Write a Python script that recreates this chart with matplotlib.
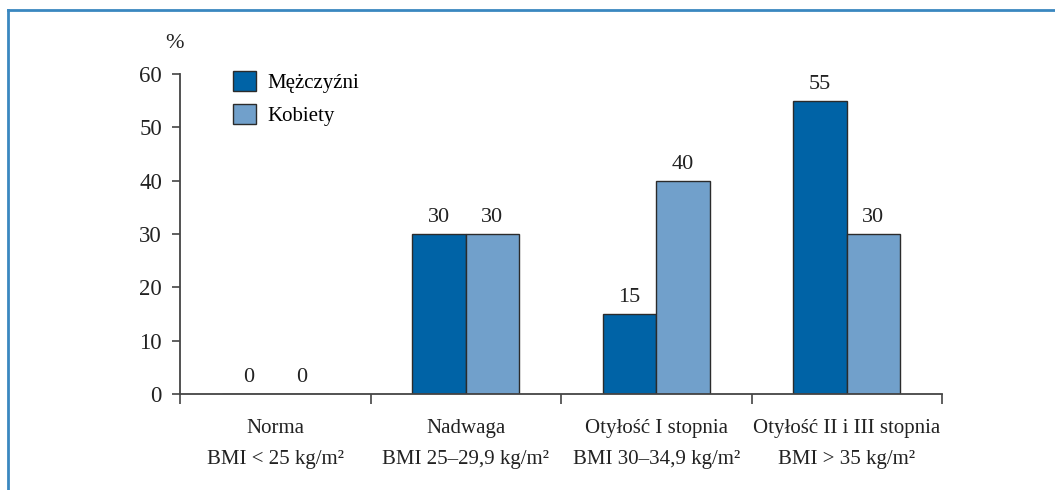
import matplotlib
matplotlib.use("Agg")
import matplotlib.pyplot as plt
from matplotlib.lines import Line2D
import numpy as np

categories = ["Norma\nBMI < 25 kg/m²", "Nadwaga\nBMI 25–29,9 kg/m²",
              "Otyłość I stopnia\nBMI 30–34,9 kg/m²",
              "Otyłość II i III stopnia\nBMI > 35 kg/m²"]
men = [0, 30, 15, 55]
women = [0, 30, 40, 30]
series_names = ["Mężczyźni", "Kobiety"]
yticks = [0, 10, 20, 30, 40, 50, 60]

plt.rcParams["font.family"] = ["Liberation Serif", "DejaVu Serif"]

W, H = 1055, 490
fig = plt.figure(figsize=(W / 100, H / 100), dpi=100)
ax = fig.add_axes([180 / W, (H - 394) / H, 762 / W, 320 / H])

dark = "#0063a6"
light = "#71a0cb"
edge = "#2b2b2b"
axis_col = "#444444"
txt = "#222222"
bw = 0.28

x = np.arange(len(categories))
b1 = ax.bar(x - bw / 2, men, bw, color=dark, edgecolor=edge, linewidth=1.0,
            label=series_names[0])
b2 = ax.bar(x + bw / 2, women, bw, color=light, edgecolor=edge, linewidth=1.0,
            label=series_names[1])
for bars, vals in ((b1, men), (b2, women)):
    for r, v in zip(bars, vals):
        ax.annotate("%d" % v, (r.get_x() + r.get_width() / 2, v),
                    textcoords="offset points", xytext=(0, 5),
                    ha="center", va="bottom", fontsize=16, color=txt)

ax.set_xlim(-0.5, len(categories) - 0.5)
ax.set_ylim(0, 60)
ax.set_yticks(yticks)
ax.tick_params(axis="y", labelsize=16.5, length=6, width=1.2, color=axis_col,
               pad=7, labelcolor=txt)

ax.set_xticks(np.arange(len(categories) + 1) - 0.5)
ax.set_xticklabels([])
ax.tick_params(axis="x", which="major", length=7, width=1.2, color=axis_col)
ax.set_xticks(x, minor=True)
ax.set_xticklabels(categories, minor=True, fontsize=15, linespacing=1.85,
                   color=txt)
ax.tick_params(axis="x", which="minor", length=0, pad=18)

for s in ("top", "right"):
    ax.spines[s].set_visible(False)
for s in ("left", "bottom"):
    ax.spines[s].set_color(axis_col)
    ax.spines[s].set_linewidth(1.3)

fig.text(174 / W, 1 - 43 / H, "%", fontsize=16, ha="center", va="center",
         color=txt)

ax.legend(loc="upper left", bbox_to_anchor=(214 / W, 1 - 52 / H),
          bbox_transform=fig.transFigure, frameon=False, fontsize=15,
          handlelength=1.1, handleheight=1.1, handletextpad=0.55,
          labelspacing=0.55)

# blue frame (top and left edges visible)
border = "#3a87c0"
fig.add_artist(Line2D([7.5 / W, 1], [1 - 10.5 / H, 1 - 10.5 / H],
                      transform=fig.transFigure, color=border, linewidth=2))
fig.add_artist(Line2D([7.5 / W, 7.5 / W], [0, 1 - 10.5 / H],
                      transform=fig.transFigure, color=border, linewidth=2))

fig.savefig("out.png", dpi=100)
